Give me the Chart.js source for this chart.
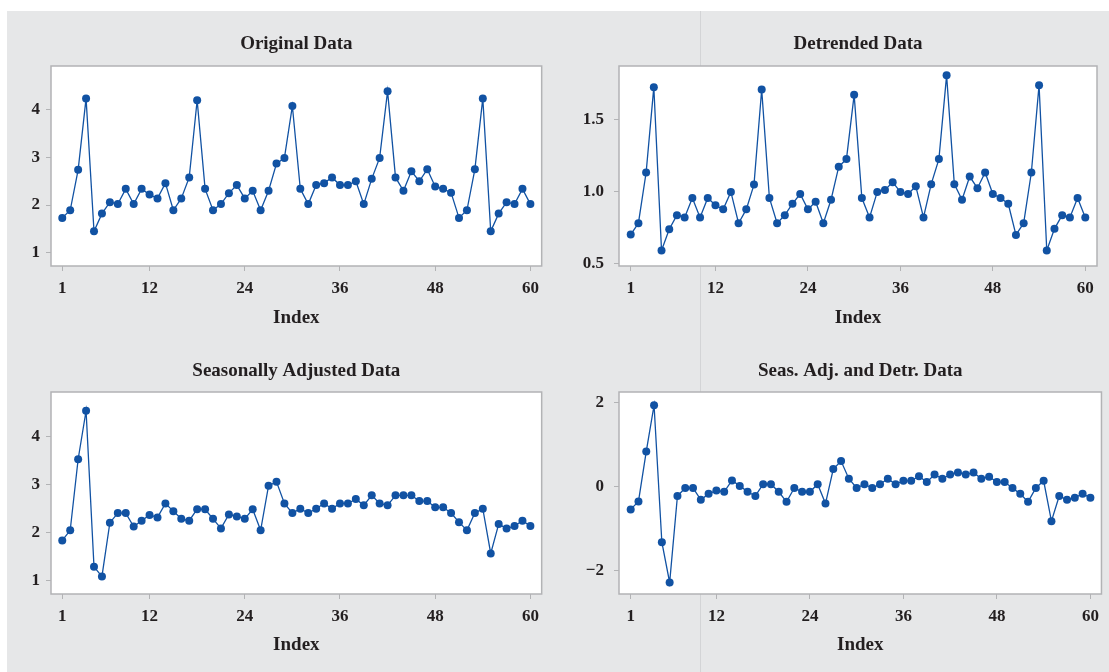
<!DOCTYPE html>
<html>
<head>
<meta charset="utf-8">
<title>Decomposition Plots</title>
<script src="https://cdn.jsdelivr.net/npm/chart.js@4.4.1/dist/chart.umd.min.js"></script>
<style>
  html, body { margin: 0; padding: 0; background: #fff; }
  body { width: 1109px; height: 672px; position: relative; overflow: hidden; }
  #panel { position: absolute; left: 7px; top: 11px; width: 1102px; height: 661px; background: #e6e7e8; }
  #divider { position: absolute; left: 700px; top: 11px; width: 1px; height: 661px; background: #d3d4d6; }
  canvas { position: absolute; }
</style>
</head>
<body>
<div id="panel"></div>
<div id="divider"></div>
<canvas id="original" width="546" height="318" style="left:0px;top:11px"></canvas>
<canvas id="detrended" width="541" height="318" style="left:560px;top:11px"></canvas>
<canvas id="seasAdj" width="546" height="316" style="left:0px;top:340px"></canvas>
<canvas id="seasDetr" width="546" height="316" style="left:560px;top:340px"></canvas>
<script>
// x categories: observation index
const index = Array.from({ length: 60 }, (_, i) => i + 1);
const xTicks = [1, 12, 24, 36, 48, 60];

// series
const original = [1.73, 1.89, 2.74, 4.24, 1.45, 1.82, 2.06, 2.02, 2.34, 2.02,
  2.34, 2.22, 2.14, 2.46, 1.89, 2.14, 2.58, 4.20, 2.34, 1.89,
  2.02, 2.25, 2.42, 2.14, 2.30, 1.89, 2.30, 2.87, 2.99, 4.08,
  2.34, 2.02, 2.42, 2.46, 2.58, 2.42, 2.42, 2.50, 2.02, 2.55,
  2.99, 4.39, 2.58, 2.30, 2.71, 2.50, 2.75, 2.39, 2.34, 2.26,
  1.73, 1.89, 2.75, 4.24, 1.45, 1.82, 2.06, 2.02, 2.34, 2.02];

const detrended = [0.704, 0.783, 1.135, 1.727, 0.594, 0.741, 0.839, 0.823, 0.958, 0.823,
  0.958, 0.907, 0.879, 1.0, 0.783, 0.879, 1.051, 1.711, 0.958, 0.783,
  0.839, 0.918, 0.986, 0.879, 0.932, 0.783, 0.946, 1.175, 1.228, 1.674,
  0.958, 0.823, 1.0, 1.014, 1.068, 1.0, 0.986, 1.040, 0.823, 1.054,
  1.228, 1.809, 1.054, 0.946, 1.107, 1.026, 1.135, 0.986, 0.958, 0.918,
  0.702, 0.783, 1.135, 1.741, 0.594, 0.744, 0.839, 0.823, 0.958, 0.823];

const seasAdj = [1.83, 2.04, 3.52, 4.53, 1.28, 1.08, 2.20, 2.40, 2.40, 2.12,
  2.24, 2.36, 2.31, 2.60, 2.44, 2.28, 2.24, 2.48, 2.48, 2.28,
  2.08, 2.37, 2.33, 2.28, 2.48, 2.04, 2.97, 3.05, 2.60, 2.40,
  2.49, 2.40, 2.49, 2.60, 2.49, 2.60, 2.60, 2.69, 2.56, 2.77,
  2.60, 2.56, 2.77, 2.77, 2.77, 2.65, 2.65, 2.52, 2.52, 2.40,
  2.21, 2.04, 2.40, 2.49, 1.56, 2.17, 2.08, 2.13, 2.24, 2.13];

const seasDetr = [-0.55, -0.36, 0.83, 1.93, -1.33, -2.29, -0.23, -0.04, -0.04, -0.32,
  -0.18, -0.10, -0.13, 0.14, 0.01, -0.13, -0.23, 0.05, 0.05, -0.13,
  -0.37, -0.04, -0.13, -0.13, 0.05, -0.41, 0.41, 0.60, 0.18, -0.04,
  0.05, -0.04, 0.05, 0.18, 0.05, 0.13, 0.13, 0.24, 0.10, 0.28,
  0.18, 0.28, 0.33, 0.28, 0.33, 0.18, 0.23, 0.10, 0.10, -0.04,
  -0.18, -0.37, -0.04, 0.13, -0.83, -0.23, -0.32, -0.27, -0.18, -0.27];

// y tick labels
const originalTicks = [1, 2, 3, 4];
const detrendedTicks = [0.5, 1.0, 1.5];
const seasAdjTicks = [1, 2, 3, 4];
const seasDetrTicks = [-2, 0, 2];

const blue = "#1152a3";
const ink = "#231f20";
const frame = "#b2b3b5";
const serif = "'Liberation Serif', 'DejaVu Serif', serif";

// white plot area + grey frame
const plotFrame = {
  id: "plotFrame",
  beforeDraw(chart) {
    const { ctx, chartArea: a } = chart;
    ctx.save();
    ctx.fillStyle = "#fff";
    ctx.fillRect(a.left, a.top, a.right - a.left, a.bottom - a.top);
    ctx.restore();
  },
  afterDraw(chart) {
    const { ctx, chartArea: a } = chart;
    ctx.save();
    ctx.strokeStyle = frame;
    ctx.lineWidth = 1.5;
    ctx.strokeRect(a.left, a.top, a.right - a.left, a.bottom - a.top);
    ctx.restore();
  }
};

function fmt(v, decimals) {
  const s = decimals ? Math.abs(v).toFixed(decimals) : String(Math.abs(v));
  return v < 0 ? "\u2212" + s : s;
}

function makeChart(id, title, values, yTicks, o) {
  new Chart(document.getElementById(id), {
    type: "line",
    data: {
      datasets: [{
        data: index.map((x, i) => ({ x: x, y: values[i] })),
        borderColor: blue,
        borderWidth: 1.3,
        pointRadius: 4,
        pointBackgroundColor: blue,
        pointBorderWidth: 0,
        tension: 0
      }]
    },
    options: {
      responsive: false,
      animation: false,
      layout: { padding: { right: 4 } },
      plugins: {
        legend: { display: false },
        tooltip: { enabled: false },
        title: {
          display: true,
          text: title,
          color: ink,
          fullSize: false,
          font: { family: serif, size: 19, weight: "bold" },
          padding: { top: o.titleTop, bottom: o.titleBottom }
        }
      },
      scales: {
        x: {
          type: "linear",
          min: o.xMin,
          max: o.xMax,
          afterBuildTicks: s => { s.ticks = xTicks.map(v => ({ value: v })); },
          afterFit: s => { s.height = o.xHeight; },
          grid: { drawOnChartArea: false, tickLength: 5, color: frame },
          border: { display: false },
          ticks: {
            color: ink, padding: 7, maxRotation: 0, autoSkip: false,
            font: { family: serif, size: 17, weight: "bold" }
          },
          title: {
            display: true, text: "Index", color: ink, padding: 0,
            font: { family: serif, size: 19, weight: "bold" }
          }
        },
        y: {
          min: o.yMin,
          max: o.yMax,
          afterBuildTicks: s => { s.ticks = yTicks.map(v => ({ value: v })); },
          afterFit: s => { s.width = o.yWidth; },
          grid: { drawOnChartArea: false, tickLength: 5, color: frame },
          border: { display: false },
          ticks: {
            color: ink, padding: o.labelPad,
            font: { family: serif, size: 17, weight: "bold" },
            callback: v => fmt(v, o.decimals)
          }
        }
      }
    },
    plugins: [plotFrame]
  });
}

const topRow = { titleTop: 21.6, titleBottom: 10.6, xHeight: 63 };
const bottomRow = { titleTop: 19.6, titleBottom: 9.6, xHeight: 62 };

makeChart("original", "Original Data", original, originalTicks,
  Object.assign({ xMin: -0.42, xMax: 61.42, yMin: 0.72, yMax: 4.92, yWidth: 51, labelPad: 6 }, topRow));
makeChart("detrended", "Detrended Data", detrended, detrendedTicks,
  Object.assign({ xMin: -0.52, xMax: 61.52, yMin: 0.486, yMax: 1.874, yWidth: 59, labelPad: 10, decimals: 1 }, topRow));
makeChart("seasAdj", "Seasonally Adjusted Data", seasAdj, seasAdjTicks,
  Object.assign({ xMin: -0.42, xMax: 61.42, yMin: 0.715, yMax: 4.92, yWidth: 51, labelPad: 6 }, bottomRow));
makeChart("seasDetr", "Seas. Adj. and Detr. Data", seasDetr, seasDetrTicks,
  Object.assign({ xMin: -0.5, xMax: 61.42, yMin: -2.564, yMax: 2.245, yWidth: 59, labelPad: 10 }, bottomRow));
</script>
</body>
</html>
